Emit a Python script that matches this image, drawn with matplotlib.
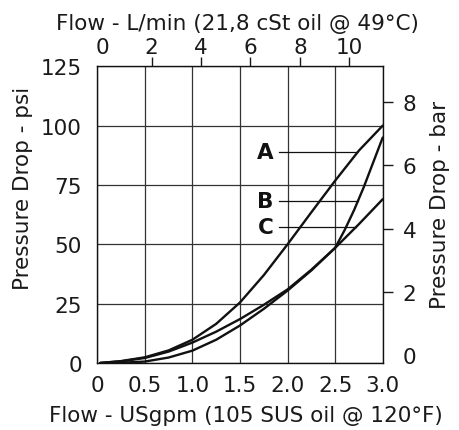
import numpy as np
import matplotlib
matplotlib.use("Agg")
import matplotlib.pyplot as plt

plt.rcParams["font.family"] = ["DejaVu Sans"]

# --- data (x in USgpm, y in psi) ---
a_gpm = [0.03, 0.25, 0.5, 0.75, 1.0, 1.25, 1.5, 1.75, 2.0, 2.25, 2.5, 2.75, 3.0]
a_psi = [0, 0.8, 2.4, 5.3, 9.8, 16.5, 25.5, 37, 50, 63.5, 76.8, 89.5, 100]

b_gpm = [0.03, 0.25, 0.5, 0.75, 1.0, 1.25, 1.5, 1.75, 2.0, 2.25, 2.5, 2.6, 2.7, 2.8, 2.9, 3.0]
b_psi = [0, 0.1, 0.6, 2.3, 5.2, 9.8, 15.8, 22.8, 30.5, 39, 48.5, 56, 64.5, 74, 84.5, 95]

c_gpm = [0.03, 0.25, 0.5, 0.75, 1.0, 1.25, 1.5, 1.75, 2.0, 2.25, 2.5, 2.75, 3.0]
c_psi = [0, 0.7, 2.1, 4.8, 8.6, 13.2, 18.5, 24.5, 31, 39.3, 48.5, 58.5, 69]

x_ticks = [0, 0.5, 1.0, 1.5, 2.0, 2.5, 3.0]
x_labels = ["0", "0.5", "1.0", "1.5", "2.0", "2.5", "3.0"]
y_ticks = [0, 25, 50, 75, 100, 125]
lpm_ticks = [0, 2, 4, 6, 8, 10]
bar_ticks = [0, 2, 4, 6, 8]

FS = 15.5
INK = "#1a1a1a"

fig = plt.figure(figsize=(4.6, 4.31), dpi=100)
ax = fig.add_axes([0.2115, 0.1555, 0.6205, 0.6884])

ax.set_xlim(0, 3.0)
ax.set_ylim(0, 125)
ax.set_xticks(x_ticks)
ax.set_xticklabels(x_labels)
ax.set_yticks(y_ticks)
ax.tick_params(axis="both", length=0, labelsize=FS, colors=INK)
ax.tick_params(axis="x", pad=9)
ax.tick_params(axis="y", pad=11)
ax.grid(True, color="#333333", linewidth=0.9)
ax.set_axisbelow(True)
for s in ax.spines.values():
    s.set_linewidth(1.0)
    s.set_color("#111111")

ax.set_xlabel("Flow - USgpm (105 SUS oil @ 120°F)", fontsize=FS, color=INK)
ax.xaxis.set_label_coords(0.52, -0.14)
ax.set_ylabel("Pressure Drop - psi", fontsize=FS, color=INK)
ax.yaxis.set_label_coords(-0.225, 0.59)

curve_kw = dict(color="#111111", linewidth=1.7, solid_capstyle="round",
                solid_joinstyle="round", zorder=5)
ax.plot(a_gpm, a_psi, **curve_kw)
ax.plot(b_gpm, b_psi, **curve_kw)
ax.plot(c_gpm, c_psi, **curve_kw)

# curve labels with leader lines running to the curve
labels = [("A", 88.7, a_gpm, a_psi), ("B", 68.4, b_gpm, b_psi), ("C", 57.4, c_gpm, c_psi)]
for name, lvl, xs, ys in labels:
    x_end = np.interp(lvl, ys, xs)
    ax.plot([1.914, x_end], [lvl, lvl], color="#111111", linewidth=0.9, zorder=4)
    ax.text(1.85, lvl, name, fontsize=FS, fontweight="bold", ha="right",
            va="center", color="#111111")

# top axis: L/min
top = ax.twiny()
top.set_xlim(-0.194, 11.35)
top.set_xticks(lpm_ticks)
top.tick_params(axis="x", direction="out", length=6.5, width=1.0, pad=0,
                labelsize=FS, colors=INK)
top.xaxis.get_major_ticks()[0].tick2line.set_visible(False)
top.set_xlabel("Flow - L/min (21,8 cSt oil @ 49°C)", fontsize=FS, color=INK)
top.xaxis.set_label_coords(0.49, 1.125)
for s in top.spines.values():
    s.set_visible(False)

# right axis: bar
right = ax.twinx()
right.set_ylim(-0.253, 9.136)
right.set_yticks(bar_ticks)
right.tick_params(axis="y", direction="out", length=7.2, width=1.0, pad=7,
                  labelsize=FS, colors=INK)
right.yaxis.get_major_ticks()[0].tick2line.set_visible(False)
right.set_ylabel("Pressure Drop - bar", fontsize=FS, color=INK)
right.yaxis.set_label_coords(1.166, 0.536)
for s in right.spines.values():
    s.set_visible(False)

fig.savefig("out.png", dpi=100)
